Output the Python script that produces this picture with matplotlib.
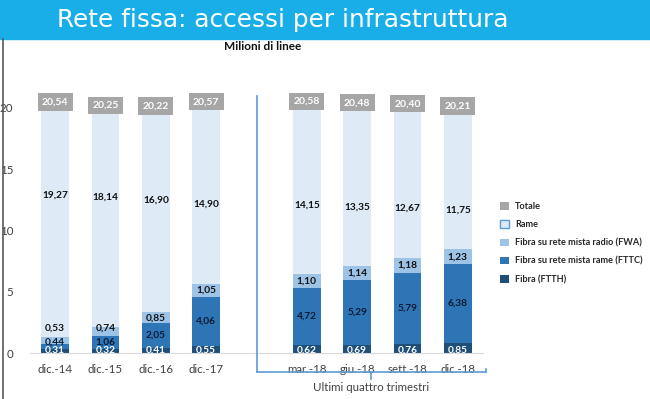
import matplotlib.pyplot as plt
from matplotlib.patches import Patch, Rectangle
from matplotlib.lines import Line2D
import numpy as np

periods = ["dic.-14", "dic.-15", "dic.-16", "dic.-17", "mar.-18", "giu.-18", "sett.-18", "dic.-18"]
ftth = [0.31, 0.32, 0.41, 0.55, 0.62, 0.69, 0.76, 0.85]
fttc = [0.44, 1.06, 2.05, 4.06, 4.72, 5.29, 5.79, 6.38]
fwa = [0.53, 0.74, 0.85, 1.05, 1.10, 1.14, 1.18, 1.23]
rame = [19.27, 18.14, 16.90, 14.90, 14.15, 13.35, 12.67, 11.75]
totale = [20.54, 20.25, 20.22, 20.57, 20.58, 20.48, 20.40, 20.21]

series_names = ["Totale", "Rame", "Fibra su rete mista radio (FWA)",
                "Fibra su rete mista rame (FTTC)", "Fibra (FTTH)"]

c_tot = "#A6A6A6"
c_rame = "#DEEBF7"
c_fwa = "#9DC3E6"
c_fttc = "#2E75B6"
c_ftth = "#1F4E79"
c_bracket = "#5B9BD5"

font = "Lato"

def fmt(v):
    return f"{v:.2f}".replace(".", ",")

fig = plt.figure(figsize=(6.5, 3.99), dpi=100)

# header band
fig.patches.append(Rectangle((0, 1 - 39 / 399), 1, 39 / 399, transform=fig.transFigure,
                             color="#19AEE8", zorder=0))
fig.text(57 / 650, 1 - 20 / 399, "Rete fissa: accessi per infrastruttura", color="white",
         fontsize=17.8, family="DejaVu Sans", va="center", ha="left")
fig.lines.append(Line2D([2.5 / 650, 2.5 / 650], [0, 1 - 39 / 399], transform=fig.transFigure,
                        color="#595959", lw=1.2))
fig.text(263 / 650, 1 - 47 / 399, "Milioni di linee", fontsize=8.5, fontweight="bold",
         family=font, ha="center", va="center", color="#111111")

ax = fig.add_axes([30 / 650, 46 / 399, 453 / 650, 269.5 / 399])
x = np.array([0, 1, 2, 3, 5, 6, 7, 8])
w = 0.55

ftth_a = np.array(ftth)
fttc_a = np.array(fttc)
fwa_a = np.array(fwa)
rame_a = np.array(rame)

ax.bar(x, ftth_a, w, color=c_ftth, zorder=2)
ax.bar(x, fttc_a, w, bottom=ftth_a, color=c_fttc, zorder=2)
ax.bar(x, fwa_a, w, bottom=ftth_a + fttc_a, color=c_fwa, zorder=2)
ax.bar(x, rame_a, w, bottom=ftth_a + fttc_a + fwa_a, color=c_rame, zorder=2)

lab = dict(fontsize=7.3, fontweight="bold", family=font, ha="center", va="center", zorder=4)
for i, xi in enumerate(x):
    y_ftth = 0.2
    y_fttc = max(ftth[i] + fttc[i] / 2, y_ftth + 0.7)
    y_fwa = max(ftth[i] + fttc[i] + fwa[i] / 2, y_fttc + 1.15)
    ax.text(xi, y_ftth, fmt(ftth[i]), color="white", **lab)
    ax.text(xi, y_fttc, fmt(fttc[i]), color="#0B1A33", **lab)
    ax.text(xi, y_fwa, fmt(fwa[i]), color="#111111", **lab)
    ax.text(xi, 9.8 + 0.16 * rame[i], fmt(rame[i]), color="#111111", **lab)
    ax.text(xi, totale[i] - 0.05, fmt(totale[i]), color="white", fontsize=7.5, fontweight="bold",
            family=font, ha="center", va="center", zorder=5,
            bbox=dict(boxstyle="square,pad=0.4", fc=c_tot, ec="none"))

ax.set_xlim(-0.5, 8.5)
ax.set_ylim(0, 22)
ax.set_yticks([0, 5, 10, 15, 20])
ax.set_xticks(x)
ax.set_xticklabels(periods)
ax.tick_params(axis="both", length=0, labelsize=8.3, labelcolor="#404040")
ax.tick_params(axis="y", pad=12)
ax.tick_params(axis="x", pad=8)
for t in ax.get_xticklabels() + ax.get_yticklabels():
    t.set_family(font)
for s in ["top", "right", "left"]:
    ax.spines[s].set_visible(False)
ax.spines["bottom"].set_color("#D9D9D9")
ax.set_facecolor("none")

# bracket for last four quarters
bk = dict(color=c_bracket, lw=1.2, clip_on=False, zorder=3)
ax.plot([4, 4], [21.0, -1.55], **bk)
ax.plot([4, 8.55], [-1.55, -1.55], **bk)
ax.plot([8.55, 8.55], [-1.55, -1.3], **bk)
ax.plot([6.27, 6.27], [-1.55, -2.1], **bk)
ax.text(6.27, -2.85, "Ultimi quattro trimestri", fontsize=8.3, family=font, color="#404040",
        ha="center", va="center")

handles = [
    Patch(fc=c_tot, ec="none"),
    Patch(fc=c_rame, ec=c_bracket, lw=1),
    Patch(fc=c_fwa, ec="none"),
    Patch(fc=c_fttc, ec="none"),
    Patch(fc=c_ftth, ec="none"),
]
fig.legend(handles, series_names, loc="upper left", bbox_to_anchor=(492 / 650, 1 - 194 / 399),
           frameon=False, prop=dict(family=font, weight="bold", size=6.6),
           handlelength=0.9, handleheight=0.9, labelspacing=1.0, handletextpad=0.7,
           labelcolor="#262626")

fig.savefig("out.png", dpi=100)
